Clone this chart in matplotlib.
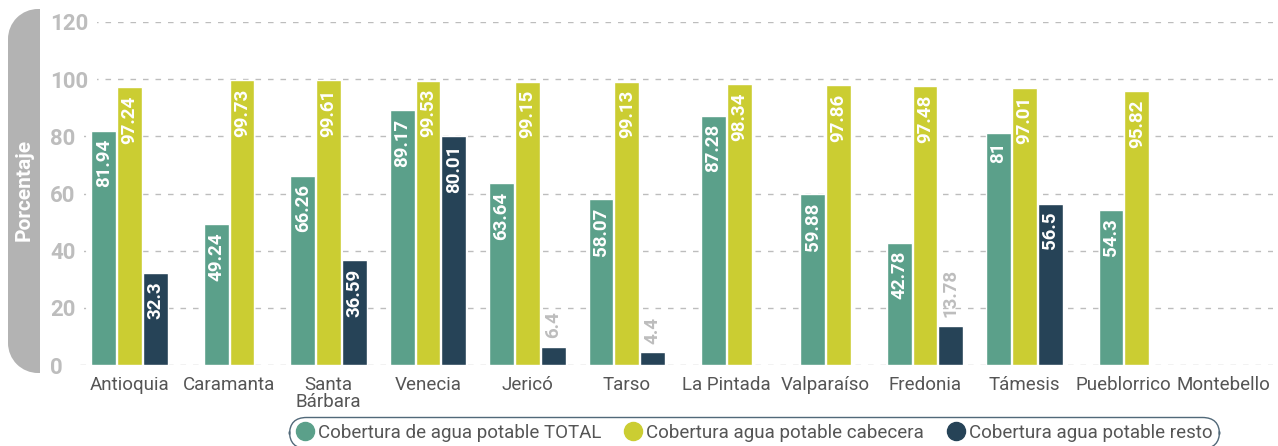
import numpy as np
import matplotlib.pyplot as plt
from matplotlib.lines import Line2D
from matplotlib.patches import Rectangle, Wedge

plt.rcParams['font.family'] = ['Roboto', 'DejaVu Sans']

municipios = ['Antioquia', 'Caramanta', 'Santa\nBárbara', 'Venecia', 'Jericó', 'Tarso',
              'La Pintada', 'Valparaíso', 'Fredonia', 'Támesis', 'Pueblorrico', 'Montebello']
total = [81.94, 49.24, 66.26, 89.17, 63.64, 58.07, 87.28, 59.88, 42.78, 81, 54.3, None]
cabecera = [97.24, 99.73, 99.61, 99.53, 99.15, 99.13, 98.34, 97.86, 97.48, 97.01, 95.82, None]
resto = [32.3, None, 36.59, 80.01, 6.4, 4.4, None, None, 13.78, 56.5, None, None]

series = [total, cabecera, resto]
nombres = ['Cobertura de agua potable TOTAL', 'Cobertura agua potable cabecera',
           'Cobertura agua potable resto']
colores = ['#5BA08A', '#CBCD32', '#264357']
gris = '#BDBDBD'

fig = plt.figure(figsize=(12.78, 4.46), dpi=100)
ax = fig.add_axes([80 / 1278, 81 / 446, 1193 / 1278, 343 / 446])

ancho = 0.25
paso = 0.26
for i in range(len(municipios)):
    # only the bars that exist, centred on the category
    presentes = [k for k in range(3) if series[k][i] is not None]
    n = len(presentes)
    for j, k in enumerate(presentes):
        v = series[k][i]
        x = i + (j - (n - 1) / 2) * paso
        ax.bar(x, v, width=ancho, color=colores[k], edgecolor='white', linewidth=1, zorder=3)
        if v >= 20:
            ax.annotate(str(v), (x, v), xytext=(0, -6), textcoords='offset points',
                        rotation=90, ha='center', va='top', color='white',
                        fontsize=13.5, fontweight='bold', zorder=4)
        else:
            ax.annotate(str(v), (x, v), xytext=(0, 6), textcoords='offset points',
                        rotation=90, ha='center', va='bottom', color=gris,
                        fontsize=13.5, fontweight='bold', zorder=4)

ax.set_xlim(-0.5, len(municipios) - 0.5)
ax.set_ylim(0, 120)
ax.set_yticks(range(0, 121, 20))
ax.set_xticks(range(len(municipios)))
ax.set_xticklabels(municipios, fontsize=13.5, color='#555555', linespacing=0.95)
ax.tick_params(axis='x', length=0, pad=8)
ax.tick_params(axis='y', length=0, pad=0)
for lab in ax.get_yticklabels():
    lab.set_fontsize(16)
    lab.set_fontweight('bold')
    lab.set_color(gris)
    lab.set_horizontalalignment('left')
    lab.set_x(-30 / 1193)
    lab.set_bbox(dict(facecolor='white', edgecolor='none', pad=6))
ax.grid(axis='y', color=gris, linestyle=(0, (4, 5)), linewidth=1, zorder=0)
for s in ax.spines.values():
    s.set_visible(False)

# grey rounded tab on the left with the axis title (pixel units -> inches)
def px(v):
    return v / 100.0

tab = '#B3B3B3'
top, bot, left, right, r = 446 - 9, 446 - 373, 8, 40, 30
fig.patches.append(Rectangle((px(left), px(bot + r)), px(right - left), px(top - bot - 2 * r),
                             transform=fig.dpi_scale_trans, color=tab, lw=0))
fig.patches.append(Rectangle((px(left + r), px(bot)), px(right - left - r), px(top - bot),
                             transform=fig.dpi_scale_trans, color=tab, lw=0))
fig.patches.append(Wedge((px(left + r), px(top - r)), px(r), 90, 180,
                         transform=fig.dpi_scale_trans, color=tab, lw=0))
fig.patches.append(Wedge((px(left + r), px(bot + r)), px(r), 180, 270,
                         transform=fig.dpi_scale_trans, color=tab, lw=0))
fig.text(24 / 1278, 1 - 190 / 446, 'Porcentaje', rotation=90, ha='center', va='center',
         color='white', fontsize=15, fontweight='bold')

handles = [Line2D([], [], marker='o', linestyle='none', markersize=13,
                  markerfacecolor=c, markeredgecolor=c) for c in colores]
leg = fig.legend(handles, nombres, loc='upper center', bbox_to_anchor=(754 / 1278, 1 - 417 / 446),
                 ncol=3, frameon=True, fontsize=13.5, handlelength=1.0, handletextpad=0.2,
                 columnspacing=1.2, borderpad=0.35, borderaxespad=0, labelcolor='#555555')
frame = leg.get_frame()
frame.set_edgecolor('#264357')
frame.set_linewidth(1)
frame.set_boxstyle('round,pad=0,rounding_size=0.9')

fig.savefig('out.png', dpi=100)
